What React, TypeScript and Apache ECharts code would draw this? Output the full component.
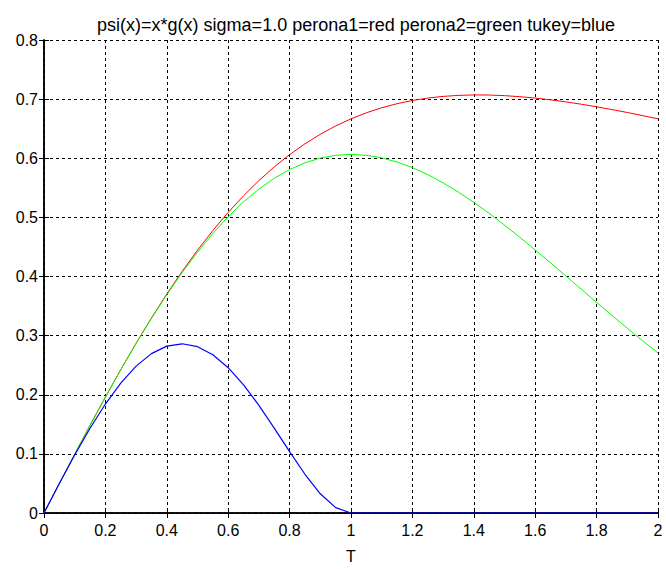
import React, { useEffect, useRef } from "react";
import * as echarts from "echarts";

const xValues = [0, 0.05, 0.1, 0.15, 0.2, 0.25, 0.3, 0.35, 0.4, 0.45, 0.5, 0.55, 0.6, 0.65, 0.7, 0.75, 0.8, 0.85, 0.9, 0.95, 1.0, 1.05, 1.1, 1.15, 1.2, 1.25, 1.3, 1.35, 1.4, 1.45, 1.5, 1.55, 1.6, 1.65, 1.7, 1.75, 1.8, 1.85, 1.9, 1.95, 2.0];

const perona1 = [0, 0.0499, 0.0995, 0.1483, 0.1961, 0.2424, 0.2871, 0.3298, 0.3704, 0.4086, 0.4444, 0.4777, 0.5085, 0.5366, 0.5622, 0.5854, 0.6061, 0.6244, 0.6406, 0.6546, 0.6667, 0.6769, 0.6854, 0.6923, 0.6977, 0.7018, 0.7046, 0.7063, 0.7071, 0.7069, 0.7059, 0.7041, 0.7018, 0.6988, 0.6953, 0.6914, 0.687, 0.6823, 0.6774, 0.6721, 0.6667];

const perona2 = [0, 0.0499, 0.0995, 0.1483, 0.196, 0.2423, 0.2868, 0.3292, 0.3692, 0.4067, 0.4412, 0.4728, 0.5012, 0.5262, 0.5479, 0.5661, 0.5809, 0.5923, 0.6003, 0.605, 0.6065, 0.605, 0.6007, 0.5936, 0.5841, 0.5723, 0.5584, 0.5427, 0.5254, 0.5068, 0.487, 0.4663, 0.4449, 0.423, 0.4008, 0.3785, 0.3562, 0.3342, 0.3125, 0.2913, 0.2707];

const tukey = [0, 0.0498, 0.098, 0.1433, 0.1843, 0.2197, 0.2484, 0.2695, 0.2822, 0.2862, 0.2813, 0.2676, 0.2458, 0.2168, 0.1821, 0.1436, 0.1037, 0.0655, 0.0325, 0.009, 0, 0, 0, 0, 0, 0, 0, 0, 0, 0, 0, 0, 0, 0, 0, 0, 0, 0, 0, 0, 0];

const titleText = "psi(x)=x*g(x) sigma=1.0 perona1=red perona2=green tukey=blue";
const xAxisName = "T";

const FONT = "Liberation Sans, Arial, Helvetica, sans-serif";

function pairs(ys: number[]) {
  return xValues.map((x, i) => [x, ys[i]]);
}

export default function App() {
  const ref = useRef<HTMLDivElement>(null);
  useEffect(() => {
    document.body.style.margin = "0";
    const chart = echarts.init(ref.current!, null, { renderer: "svg" });
    const axisCommon = {
      axisLine: { show: true, lineStyle: { color: "#000", width: 1.5 } },
      axisTick: { show: true, inside: true, length: 5, lineStyle: { color: "#000" } },
      splitLine: { show: true, lineStyle: { color: "#000", type: [3, 3] as any, width: 1 } },
    };
    chart.setOption({
      animation: false,
      backgroundColor: "#fff",
      title: {
        text: titleText,
        left: 351,
        top: 11,
        textAlign: "center",
        textStyle: { fontFamily: FONT, fontSize: 18, fontWeight: "normal", color: "#000" },
      },
      grid: { left: 44, top: 40, right: 8, bottom: 47, containLabel: false },
      xAxis: [
        {
          type: "value",
          min: 0,
          max: 2,
          interval: 0.2,
          name: xAxisName,
          nameLocation: "middle",
          nameGap: 35,
          nameTextStyle: { fontFamily: FONT, fontSize: 16, color: "#000" },
          axisLabel: { fontFamily: FONT, fontSize: 16, color: "#000", margin: 9 },
          ...axisCommon,
        },
        {
          type: "value",
          position: "top",
          min: 0,
          max: 2,
          interval: 0.2,
          axisLabel: { show: false },
          axisLine: { show: true, lineStyle: { color: "#000", width: 1.5 } },
          axisTick: { show: true, inside: true, length: 5, lineStyle: { color: "#000" } },
          splitLine: { show: false },
        },
      ],
      yAxis: [
        {
          type: "value",
          min: 0,
          max: 0.8,
          interval: 0.1,
          axisLabel: { fontFamily: FONT, fontSize: 16, color: "#000", margin: 6 },
          ...axisCommon,
        },
        {
          type: "value",
          position: "right",
          min: 0,
          max: 0.8,
          interval: 0.1,
          axisLabel: { show: false },
          axisLine: { show: true, lineStyle: { color: "#000", width: 1.5 } },
          axisTick: { show: true, inside: true, length: 5, lineStyle: { color: "#000" } },
          splitLine: { show: false },
        },
      ],
      series: [
        {
          name: "perona1",
          type: "line",
          data: pairs(perona1),
          showSymbol: false,
          smooth: false,
          lineStyle: { color: "#ff0000", width: 1 },
          z: 3,
        },
        {
          name: "perona2",
          type: "line",
          data: pairs(perona2),
          showSymbol: false,
          lineStyle: { color: "#00ff00", width: 1 },
          z: 4,
        },
        {
          name: "tukey",
          type: "line",
          data: pairs(tukey),
          showSymbol: false,
          lineStyle: { color: "#0000ff", width: 1.2 },
          z: 5,
        },
      ],
    });
    return () => chart.dispose();
  }, []);
  return <div ref={ref} style={{ width: 666, height: 569 }} />;
}
